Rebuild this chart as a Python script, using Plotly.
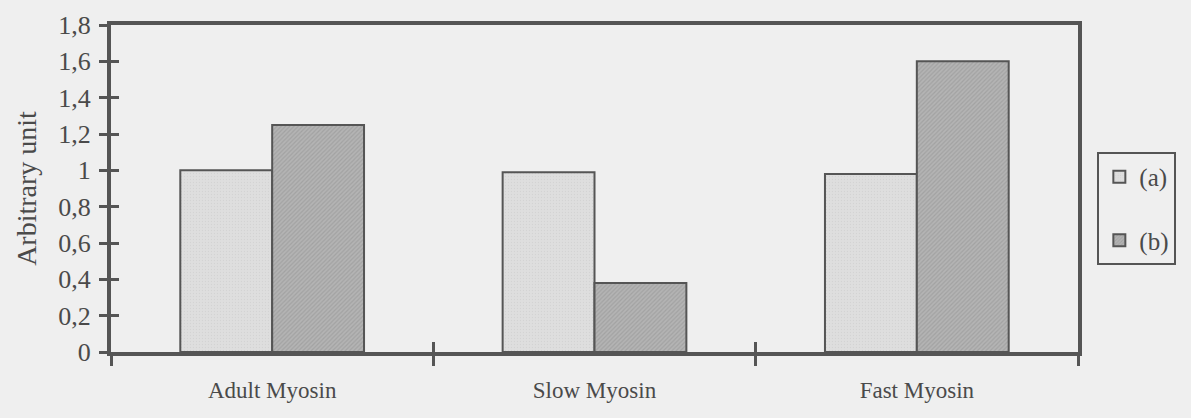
import plotly.graph_objects as go

categories = ["Adult Myosin", "Slow Myosin", "Fast Myosin"]
series_a = [1.0, 0.99, 0.98]
series_b = [1.25, 0.38, 1.6]
y_ticks = [0, 0.2, 0.4, 0.6, 0.8, 1, 1.2, 1.4, 1.6, 1.8]
y_tick_labels = ["0", "0,2", "0,4", "0,6", "0,8", "1", "1,2", "1,4", "1,6", "1,8"]

LINE = "#555555"
BG = "#efefef"
TEXT = "#4a4a4a"
FONT = "Liberation Serif, Times New Roman, serif"

fig = go.Figure()
fig.add_trace(go.Bar(
    x=categories, y=series_a, name="(a)", legendgroup="a",
    marker=dict(color="#dcdcdc", line=dict(color=LINE, width=2),
                pattern=dict(shape=".", size=3, solidity=0.15, fgcolor="#c8c8c8", bgcolor="#dedede")),
))
fig.add_trace(go.Bar(
    x=categories, y=series_b, name="(b)", legendgroup="b",
    marker=dict(color="#aaaaaa", line=dict(color=LINE, width=2),
                pattern=dict(shape="/", size=3, solidity=0.4, fgcolor="#909090", bgcolor="#b4b4b4")),
))
# invisible trace on overlay axes, used only to draw the inner half of the crossing ticks
fig.add_trace(go.Scatter(x=categories, y=series_a, yaxis="y2", xaxis="x2", mode="markers",
                         marker=dict(opacity=0), showlegend=False, hoverinfo="skip"))

fig.update_layout(
    width=1191, height=418,
    paper_bgcolor=BG, plot_bgcolor=BG,
    margin=dict(l=111, r=113, t=25, b=66, autoexpand=False),
    barmode="group", bargap=0.43, bargroupgap=0,
    font=dict(family=FONT, size=23, color=TEXT),
    showlegend=True,
    legend=dict(x=1.02, y=0.612, xanchor="left", yanchor="top",
                bordercolor=LINE, borderwidth=2, bgcolor=BG,
                font=dict(size=25, family=FONT, color=TEXT),
                tracegroupgap=28, traceorder="grouped", itemwidth=30),
    xaxis=dict(type="category", showline=True, linecolor=LINE, linewidth=4, mirror=True,
               ticks="outside", tickson="boundaries", ticklen=10, tickwidth=3, tickcolor=LINE,
               showgrid=False, zeroline=False, tickfont=dict(size=23), automargin=False,
               ticklabelstandoff=14),
    yaxis=dict(range=[0, 1.8], tickvals=y_ticks, ticktext=y_tick_labels,
               showline=True, linecolor=LINE, linewidth=4, mirror=True,
               ticks="outside", ticklen=8, tickwidth=3, tickcolor=LINE,
               showgrid=False, zeroline=False, tickfont=dict(size=26), automargin=False,
               ticklabelstandoff=3,
               title=dict(text="Arbitrary unit", font=dict(size=28), standoff=14)),
    xaxis2=dict(type="category", overlaying="x", matches="x", ticks="inside", tickson="boundaries",
                ticklen=10, tickwidth=3, tickcolor=LINE, showticklabels=False, showgrid=False,
                showline=False, zeroline=False, side="bottom"),
    yaxis2=dict(range=[0, 1.8], overlaying="y", tickvals=y_ticks, ticks="inside", ticklen=8,
                tickwidth=3, tickcolor=LINE, showticklabels=False, showgrid=False,
                showline=False, zeroline=False, side="left"),
)

fig.write_html("out.html", config={"displayModeBar": False},
               post_script="document.body.style.margin='0';document.body.style.background='#efefef';")
